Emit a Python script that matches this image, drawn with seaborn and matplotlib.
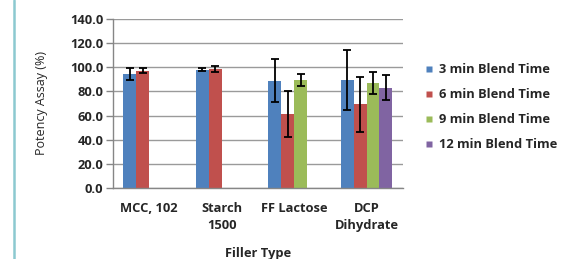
import matplotlib
matplotlib.use("Agg")
import matplotlib.pyplot as plt
import numpy as np
import pandas as pd
import seaborn as sns
from matplotlib.lines import Line2D

fillers = ["MCC, 102", "Starch\n1500", "FF Lactose", "DCP\nDihydrate"]
blend_times = ["3 min Blend Time", "6 min Blend Time", "9 min Blend Time", "12 min Blend Time"]

# mean potency per filler, one list per blend time (nan = not tested)
potency_3 = [94.5, 98.1, 89.0, 89.5]
potency_6 = [97.3, 98.7, 61.3, 69.3]
potency_9 = [np.nan, np.nan, 89.5, 86.8]
potency_12 = [np.nan, np.nan, np.nan, 82.9]

err_3 = [4.6, 1.0, 17.9, 25.0]
err_6 = [1.8, 2.4, 19.2, 22.6]
err_9 = [np.nan, np.nan, 5.0, 9.0]
err_12 = [np.nan, np.nan, np.nan, 10.4]

colors = ["#4F81BD", "#C0504D", "#9BBB59", "#8064A2"]

rows = []
for bt, vals, errs in zip(blend_times, [potency_3, potency_6, potency_9, potency_12],
                          [err_3, err_6, err_9, err_12]):
    for f, v, e in zip(fillers, vals, errs):
        rows.append({"filler": f, "blend": bt, "potency": v, "err": e})
df = pd.DataFrame(rows).dropna()

sns.set_style("white")
plt.rcParams["font.family"] = ["Open Sans", "DejaVu Sans"]

fig = plt.figure(figsize=(5.62, 2.59), dpi=100)
ax = fig.add_axes([0.201, 0.2753, 0.5156, 0.6502])

sns.barplot(data=df, x="filler", y="potency", hue="blend", order=fillers,
            hue_order=blend_times, palette=colors, errorbar=None, width=0.716,
            saturation=1, ax=ax, legend=False, edgecolor="none", linewidth=0)

lookup = {(r.filler, r.blend): r.err for r in df.itertuples()}
for bt, cont in zip(blend_times, ax.containers):
    for bar in cont:
        xc = bar.get_x() + bar.get_width() / 2
        h = bar.get_height()
        if np.isnan(h):
            continue
        f = fillers[int(round(xc))]
        ax.errorbar(xc, h, yerr=lookup[(f, bt)], color="black", lw=1.3,
                    capsize=3, capthick=1.3, zorder=5)

ax.set_ylim(0, 140)
ax.set_xlim(-0.5, 3.5)
ax.set_yticks(np.arange(0, 141, 20))
ax.set_yticklabels([f"{v:.1f}" for v in np.arange(0, 141, 20)],
                   fontsize=9.3, fontweight="bold")
ax.set_xticks([-0.5, 0.5, 1.5, 2.5, 3.5])
ax.set_xticklabels([])
ax.set_xticks(range(len(fillers)), minor=True)
ax.set_xticklabels(fillers, minor=True, fontsize=9.3, linespacing=1.45)
for lbl in ax.get_xticklabels(minor=True):
    lbl.set_fontweight("bold")
ax.tick_params(axis="x", which="major", length=5, color="#868686", width=1)
ax.tick_params(axis="x", which="minor", length=0, pad=10)
ax.tick_params(axis="y", length=5, color="#868686", width=1, pad=2, left=True)

ax.yaxis.grid(True, color="#9a9a9a", lw=1)
ax.set_axisbelow(True)
for side in ["top", "right"]:
    ax.spines[side].set_visible(False)
for side in ["left", "bottom"]:
    ax.spines[side].set_color("#868686")
    ax.spines[side].set_linewidth(1)

ax.set_xlabel("Filler Type", fontsize=9.3, fontweight="bold")
ax.xaxis.set_label_coords(0.5, -0.39)
ax.xaxis.label.set_va("center")
ax.set_ylabel("Potency Assay (%)", fontsize=9)
ax.yaxis.set_label_coords(-0.245, 0.5)
ax.yaxis.label.set_va("center")

handles = [Line2D([], [], marker="s", linestyle="none", markersize=5,
                  markerfacecolor=c, markeredgecolor="none") for c in colors]
fig.legend(handles, blend_times, loc="upper left", bbox_to_anchor=(0.757, 0.755),
           frameon=False, prop={"size": 9.3, "weight": "bold"},
           handlelength=0.6, handletextpad=0.45, labelspacing=0.93,
           borderpad=0, borderaxespad=0)

fig.add_artist(Line2D([13.5 / 562, 13.5 / 562], [0, 1], color="#8cc9d0", lw=1.8))

fig.savefig("out.png", dpi=100)
